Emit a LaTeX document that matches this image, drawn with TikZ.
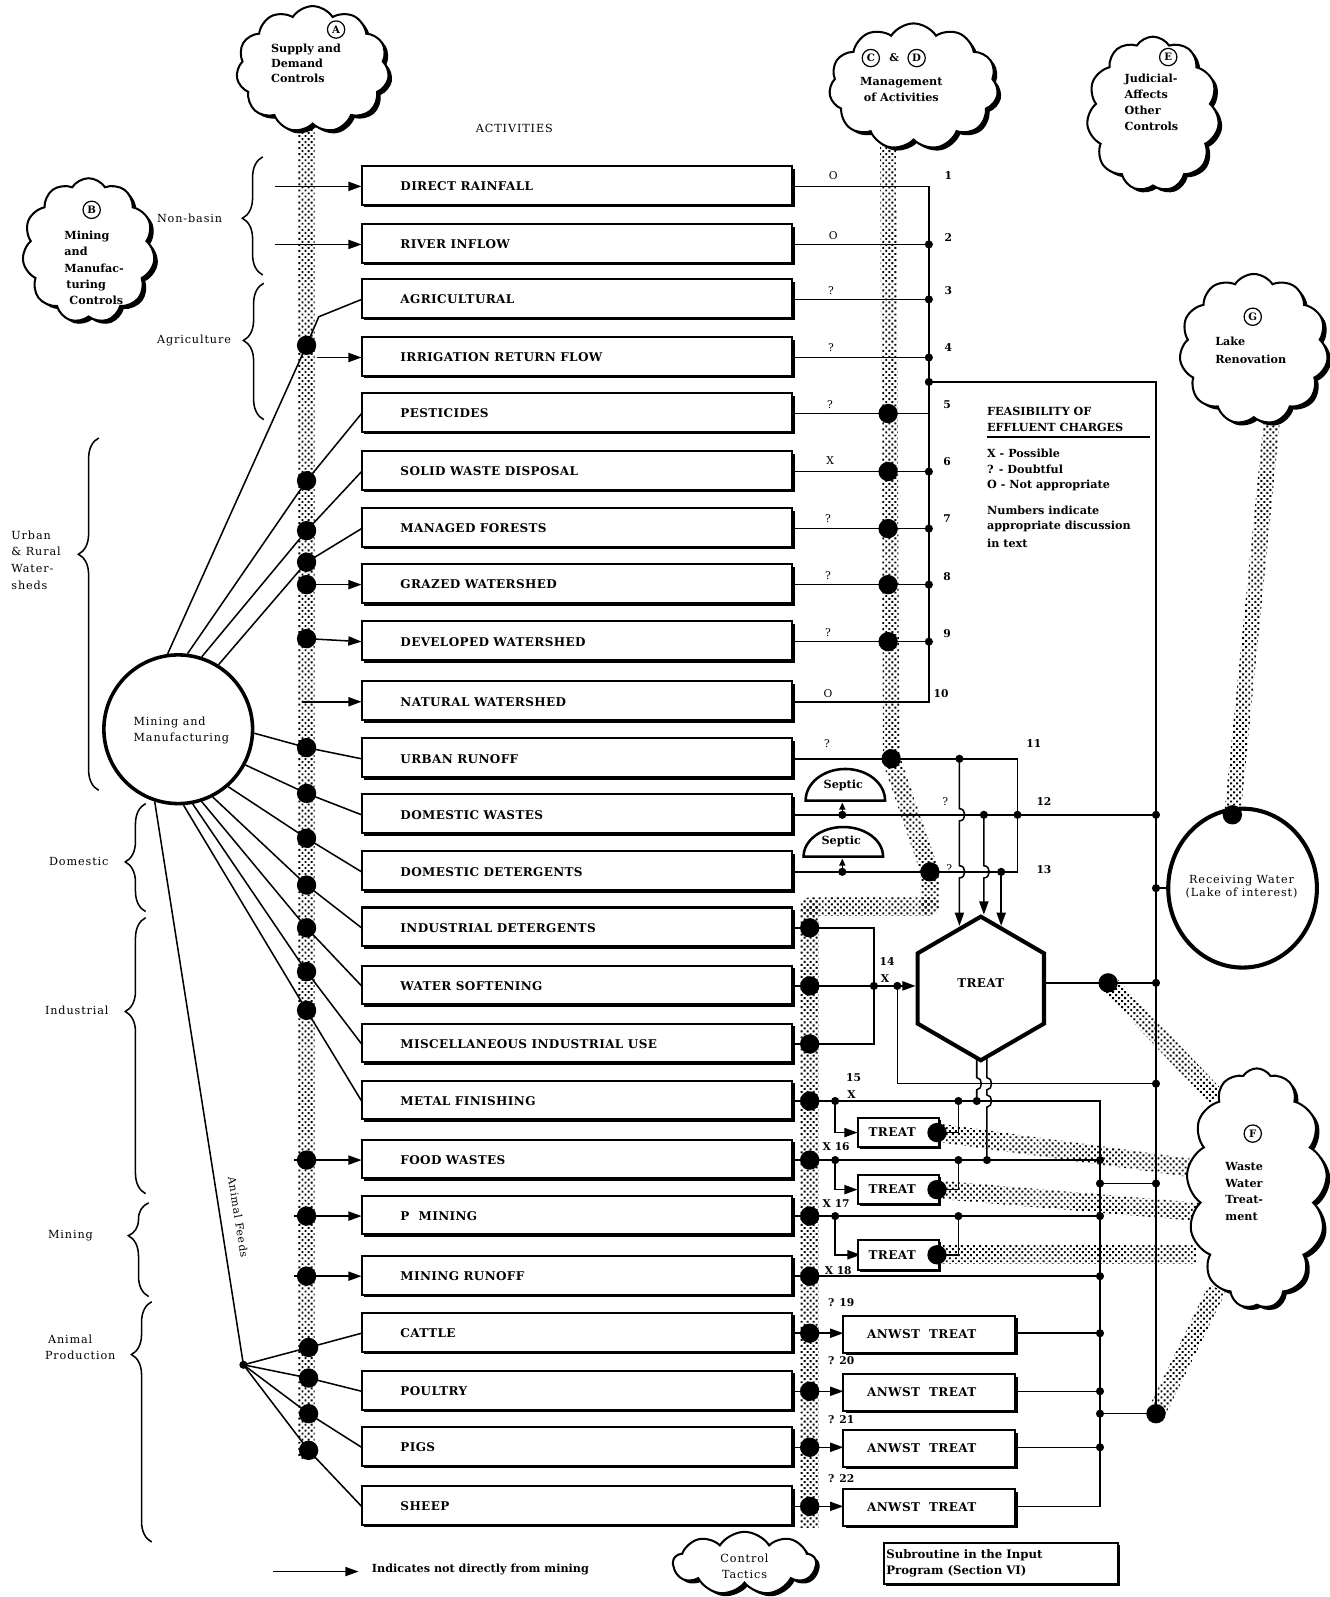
\documentclass[tikz,border=0pt]{standalone}
\usepackage{fontspec}
\setmainfont{DejaVu Serif}
\newfontfamily\spaced[LetterSpace=8]{DejaVu Serif}
\newfontfamily\boxfont[LetterSpace=3]{DejaVu Serif}
\usetikzlibrary{arrows.meta,calc,shapes.geometric,shapes.symbols,shadows,patterns.meta,decorations.pathreplacing}
\newcommand{\bandseg}[3]{\fill[stip] ($(#1)!#3!90:(#2)$) -- ($(#2)!#3!-90:(#1)$) -- ($(#2)!#3!90:(#1)$) -- ($(#1)!#3!-90:(#2)$) -- cycle;}
\tikzset{
 conn/.style={line width=1.5pt},
 arr/.style={line width=1.5pt,-{Triangle[length=13pt,width=9pt]}},
 sarr/.style={line width=1.5pt,-{Triangle[length=7pt,width=6pt]}},
 bigdot/.style={circle,fill=black,inner sep=0pt,minimum size=19pt},
 sdot/.style={circle,fill=black,inner sep=0pt,minimum size=8pt},
 actbox/.style={draw,line width=2pt,fill=white,minimum width=423pt,minimum height=38pt,inner sep=0pt,general shadow={fill=black,shadow xshift=2.5pt,shadow yshift=-2.5pt}},
 abox/.style={draw,line width=2pt,fill=white,minimum width=169pt,minimum height=36pt,inner sep=0pt,general shadow={fill=black,shadow xshift=2.5pt,shadow yshift=-2.5pt}},
 tbox/.style={draw,line width=2pt,fill=white,minimum width=80pt,minimum height=29pt,inner sep=0pt,general shadow={fill=black,shadow xshift=2pt,shadow yshift=-2pt}},
 acttext/.style={anchor=west,inner sep=0pt,font=\boxfont\bfseries\fontsize{11.8}{14}\selectfont},
 stip/.style={pattern={Dots[radius=1.35pt,distance=4.2pt,angle=45]}},
 cloudy/.style={cloud,cloud puffs=11,cloud puff arc=115,cloud ignores aspect,draw,line width=2pt,fill=white,inner sep=0pt,general shadow={fill=black,shadow xshift=3.5pt,shadow yshift=-3pt}},
 circlet/.style={circle,draw,line width=1.2pt,inner sep=0pt,minimum size=17pt,font=\bfseries\fontsize{10}{10}\selectfont},
 ctext/.style={inner sep=0pt,font=\bfseries\fontsize{11}{15}\selectfont,align=left},
 numl/.style={inner sep=0pt,font=\bfseries\fontsize{10.5}{12}\selectfont},
 side/.style={anchor=west,inner sep=0pt,font=\spaced\fontsize{11}{16.5}\selectfont,align=left},
 brc/.style={decorate,decoration={brace,amplitude=20pt,aspect=#1},line width=1.5pt},
}
\begin{document}
\begin{tikzpicture}[x=1pt,y=-1pt]
\fill[white] (0,0) rectangle (1305,1568);
\useasboundingbox (0,0) rectangle (1305,1568);

% ---------- row coordinates
\foreach \i/\y in {1/183,2/240,3/294,4/351,5/406,6/463,7/519,8/574,9/630,10/689,11/745,12/800,13/856,14/911,15/968,16/1025,17/1081,18/1139,19/1194,20/1253,21/1309,22/1366,23/1421,24/1479}{
  \coordinate (L\i) at (355,\y);
  \coordinate (R\i) at (778,\y);
}

% ---------- stippled bands
\bandseg{301,110}{301,1432}{8pt}
\bandseg{872,110}{875,745}{8pt}
\bandseg{875,745}{913,856}{9pt}
\bandseg{913,856}{913,890}{9pt}
\bandseg{913,890}{795,890}{9pt}
\bandseg{795,890}{795,1500}{9pt}
\fill[stip] (913,890) circle[radius=9];
\fill[stip] (795,890) circle[radius=9];
\bandseg{1250,400}{1210,800}{8pt}
\bandseg{1088,965}{1195,1078}{9pt}
\bandseg{920,1112}{1178,1148}{9pt}
\bandseg{920,1168}{1178,1190}{9pt}
\bandseg{920,1232}{1175,1232}{9pt}
\bandseg{1195,1265}{1135,1388}{9pt}

% ---------- main circle and lake
\node[circle,draw,line width=3.5pt,fill=white,minimum size=146pt,inner sep=0pt] (mm) at (175,716) {};
\node[ellipse,draw,line width=4pt,minimum width=146pt,minimum height=156pt,inner sep=0pt] (lake) at (1220,872) {};

% ---------- left connectors
\draw[arr] (270,183) -- (L1);
\draw[arr] (270,240) -- (L2);
\draw[conn] (mm.98) -- (301,339) -- (313,311) -- (L3);
\draw[arr] (311,351) -- (L4);
\draw[conn] (mm.83) -- (301,472) -- (L5);
\draw[conn] (mm.72) -- (301,521) -- (L6);
\draw[conn] (mm.58) -- (301,552) -- (L7);
\draw[arr] (301,574) -- (L8);
\draw[arr] (301,627) -- (L9);
\draw[arr] (297,689) -- (L10);
\draw[conn] (mm.-3) -- (301,734) -- (L11);
\draw[conn] (mm.-28) -- (301,779) -- (L12);
\draw[conn] (mm.-49) -- (301,823) -- (L13);
\draw[conn] (mm.-63) -- (301,869) -- (L14);
\draw[conn] (mm.-72) -- (301,911) -- (L15);
\draw[conn] (mm.-79) -- (301,954) -- (L16);
\draw[conn] (mm.-86) -- (301,992) -- (L17);
\draw[arr] (289,1139) -- (L18);
\draw[arr] (289,1194) -- (L19);
\draw[arr] (289,1253) -- (L20);
\coordinate (af) at (239,1340);
\draw[conn] (mm.-108) -- (af);
\draw[conn] (af) -- (303,1323) -- (L21);
\draw[conn] (af) -- (303,1353) -- (L22);
\draw[conn] (af) -- (303,1388) -- (L23);
\draw[conn] (af) -- (303,1424) -- (L24);

% ---------- right connectors rows 1-10
\draw[conn] (R1) -- (912,183) -- (912,689) -- (R10);
\foreach \i/\y in {2/240,3/294,4/351,5/406,6/463,7/519,8/574,9/630}{\draw[conn] (R\i) -- (912,\y);}
\draw[conn] (912,375) -- (1135,375) -- (1135,1388);

% ---------- rows 11-13
\draw[conn] (R11) -- (999,745) -- (999,856) -- (R13);
\draw[conn] (R12) -- (1135,800);
\draw[sarr] (827,800) -- (827,788);
\draw[sarr] (827,856) -- (827,843);
\draw[arr] (942,745) -- (942,794) .. controls (949,794) and (949,806) .. (942,806) -- (942,850) .. controls (949,850) and (949,862) .. (942,862) -- (942,909);
\draw[arr] (966,800) -- (966,850) .. controls (973,850) and (973,862) .. (966,862) -- (966,898);
\draw[arr] (983,856) -- (983,909);

% ---------- rows 14-16
\draw[conn] (R14) -- (858,911) -- (858,1025) -- (R16);
\draw[conn] (R15) -- (858,968);
\draw[arr] (858,968) -- (899,968);
\draw[conn] (881,968) -- (881,1064) -- (1135,1064);
\draw[conn] (1027,965) -- (1135,965);
\draw[conn] (1135,872) -- (lake.west);

% ---------- hex outlet lines
\draw[conn] (959,1039) -- (959,1058) .. controls (965,1058) and (965,1070) .. (959,1070) -- (959,1081);
\draw[conn] (969,1039) -- (969,1058) .. controls (975,1058) and (975,1070) .. (969,1070) -- (969,1075) .. controls (975,1075) and (975,1087) .. (969,1087) -- (969,1139);

% ---------- rows 17-24
\draw[conn] (R17) -- (1080,1081) -- (1080,1479) -- (997,1479);
\draw[conn] (R18) -- (1080,1139);
\draw[conn] (R19) -- (1080,1194);
\draw[conn] (R20) -- (1080,1253);
\draw[conn] (1080,1162) -- (1135,1162);
\draw[conn] (1080,1388) -- (1135,1388);
\foreach \y in {1309,1366,1421}{\draw[conn] (997,\y) -- (1080,\y);}
\draw[arr] (820,1081) -- (820,1112) -- (842,1112);
\draw[arr] (820,1139) -- (820,1168) -- (842,1168);
\draw[arr] (820,1194) -- (820,1232) -- (845,1232);
\draw[conn] (922,1112) -- (941,1112) -- (941,1081);
\draw[conn] (922,1168) -- (941,1168) -- (941,1139);
\draw[conn] (922,1232) -- (941,1232) -- (941,1194);
\foreach \i in {21,22,23,24}{\draw[arr] (R\i) -- ($(R\i)+(50,0)$);}

% ---------- clouds
\node[cloudy,minimum width=150pt,minimum height=124pt] (cA) at (307,68) {};
\node[cloudy,minimum width=130pt,minimum height=142pt] (cB) at (87,246) {};
\node[cloudy,minimum width=166pt,minimum height=124pt] (cCD) at (897,85) {};
\node[cloudy,minimum width=130pt,minimum height=152pt] (cE) at (1132,112) {};
\node[cloudy,minimum width=146pt,minimum height=148pt] (cG) at (1231,343) {};
\node[cloudy,cloud puffs=13,minimum width=138pt,minimum height=236pt] (cF) at (1234,1167) {};
\node[cloudy,cloud puffs=9,minimum width=140pt,minimum height=62pt] (cCT) at (731,1535) {};

% ---------- boxes
\foreach \i/\y/\t in {1/183/DIRECT RAINFALL,2/240/RIVER INFLOW,3/294/AGRICULTURAL,4/351/IRRIGATION RETURN FLOW,5/406/PESTICIDES,6/463/SOLID WASTE DISPOSAL,7/519/MANAGED FORESTS,8/574/GRAZED WATERSHED,9/630/DEVELOPED WATERSHED,10/689/NATURAL WATERSHED,11/745/URBAN RUNOFF,12/800/DOMESTIC WASTES,13/856/DOMESTIC DETERGENTS,14/911/INDUSTRIAL DETERGENTS,15/968/WATER SOFTENING,16/1025/MISCELLANEOUS INDUSTRIAL USE,17/1081/METAL FINISHING,18/1139/FOOD WASTES,19/1194/P\ \ MINING,20/1253/MINING RUNOFF,21/1309/CATTLE,22/1366/POULTRY,23/1421/PIGS,24/1479/SHEEP}{
  \node[actbox] (b\i) at (566.5,\y-1) {};
  \node[acttext] (t\i) at (393,\y) {\t};
}
\foreach \i/\y in {21/1309,22/1366,23/1421,24/1479}{
  \node[abox] (an\i) at (912.5,\y+1) {};
  \node[inner sep=0pt,font=\boxfont\bfseries\fontsize{11.8}{14}\selectfont] (ant\i) at (905,\y+1) {ANWST\ \ TREAT};
}
\foreach \i/\y in {1/1112,2/1168,3/1232}{
  \node[tbox] (tb\i) at (882,\y) {};
  \node[inner sep=0pt,font=\boxfont\bfseries\fontsize{11.8}{14}\selectfont] (tbt\i) at (876,\y) {TREAT};
}
\node[draw,line width=2pt,fill=white,minimum width=230pt,minimum height=40pt,inner sep=0pt,general shadow={fill=black,shadow xshift=2pt,shadow yshift=-2pt}] (sub) at (983,1535) {};

% hexagon
\draw[line width=4pt,fill=white,line join=miter] (963,900) -- (1025,936) -- (1025,1005) -- (963,1041) -- (901,1005) -- (901,936) -- cycle;
\node[inner sep=0pt,font=\boxfont\bfseries\fontsize{11.8}{14}\selectfont] (hext) at (963,965) {TREAT};
% septic domes
\draw[line width=2.5pt,fill=white] (791,786) arc[start angle=180,end angle=360,x radius=39,y radius=31] -- cycle;
\draw[line width=2.5pt,fill=white] (789,841) arc[start angle=180,end angle=360,x radius=39,y radius=29] -- cycle;
\node[inner sep=0pt,font=\bfseries\fontsize{11}{12}\selectfont] (sep1) at (828,771) {Septic};
\node[inner sep=0pt,font=\bfseries\fontsize{11}{12}\selectfont] (sep2) at (826,826) {Septic};

% ---------- big dots
\foreach \p in {(301,339),(301,472),(301,521),(301,552),(301,574),(301,627),(301,734),(301,779),(301,823),(301,869),(301,911),(301,954),(301,992),(301,1139),(301,1194),(301,1253),(303,1323),(303,1353),(303,1388),(303,1424),
 (872,406),(872,463),(872,519),(872,574),(872,630),(875,745),(913,856),
 (795,911),(795,968),(795,1025),(795,1081),(795,1139),(795,1194),(795,1253),(795,1309),(795,1366),(795,1421),(795,1479),
 (1088,965),(1210,800),(1135,1388),(920,1112),(920,1168),(920,1232)}{\node[bigdot] at \p {};}
% ---------- small dots
\foreach \p in {(912,240),(912,294),(912,351),(912,375),(912,463),(912,519),(912,574),(912,630),
 (942,745),(966,800),(999,800),(983,856),(827,800),(827,856),
 (1135,800),(1135,872),(1135,965),(1135,1064),(1135,1162),(858,968),(881,968),
 (820,1081),(941,1081),(959,1081),(820,1139),(941,1139),(969,1139),(1080,1139),(1080,1162),
 (820,1194),(941,1194),(1080,1194),(1080,1253),(1080,1309),(1080,1366),(1080,1388),(1080,1421),(239,1340)}{\node[sdot] at \p {};}

% ---------- braces and side labels
\draw[brc=0.48] (258,270) -- (258,154);
\draw[brc=0.58] (259,412) -- (259,278);
\draw[brc=0.67] (97,776) -- (97,430);
\draw[brc=0.46] (143,895) -- (143,789);
\draw[brc=0.66] (143,1172) -- (143,901);
\draw[brc=0.65] (146,1273) -- (146,1181);
\draw[brc=0.78] (149,1514) -- (149,1278);
\node[side] (nb) at (154,214) {Non-basin};
\node[side] (ag) at (154,334) {Agriculture};
\node[side] (ur) at (11,550) {Urban\\\& Rural\\Water-\\sheds};
\node[side] (dm) at (48,846) {Domestic};
\node[side] (in) at (44,992) {Industrial};
\node[side] (mn) at (47,1213) {Mining};
\node[side,font=\spaced\fontsize{11}{16}\selectfont] (ap) at (44,1323) {\hspace{3pt}Animal\\Production};
\node[inner sep=0pt,rotate=-81,font=\spaced\fontsize{10.5}{12}\selectfont] (afl) at (234,1195) {Animal Feeds};
\node[side,font=\spaced\fontsize{11}{16}\selectfont] (mmt) at (131,717) {Mining and\\Manufacturing};
\node[inner sep=0pt,font=\spaced\fontsize{11}{13}\selectfont] (actl) at (505,126) {ACTIVITIES};

% ---------- cloud texts
\node[circlet] (ca) at (330,29) {A};
\node[ctext,anchor=west,font=\bfseries\fontsize{11}{14.5}\selectfont] (cat) at (266,62) {Supply and\\Demand\\Controls};
\node[circlet] (cb) at (90,206) {B};
\node[ctext,anchor=west,font=\bfseries\fontsize{11}{16}\selectfont] (cbt) at (63,263) {Mining\\and\\Manufac-\\\hspace{2pt}turing\\\hspace{5pt}Controls};
\node[circlet] (cc) at (855,57) {C};
\node[numl] (amp) at (878,57) {\&};
\node[circlet] (cd) at (900,57) {D};
\node[ctext,align=center,font=\bfseries\fontsize{11}{16}\selectfont] (cdt) at (885,88) {Management\\of Activities};
\node[circlet] (ce) at (1147,56) {E};
\node[ctext,anchor=west,font=\bfseries\fontsize{11}{15.7}\selectfont] (cet) at (1104,100) {Judicial-\\Affects\\Other\\Controls};
\node[circlet] (cg) at (1230,311) {G};
\node[ctext,anchor=west,font=\bfseries\fontsize{11}{17}\selectfont] (cgt) at (1193,344) {Lake\\Renovation};
\node[circlet] (cf) at (1230,1113) {F};
\node[ctext,anchor=west,font=\bfseries\fontsize{11}{16.3}\selectfont] (cft) at (1203,1170) {Waste\\Water\\Treat-\\ment};
\node[ctext,align=center,font=\spaced\fontsize{11}{16}\selectfont] (ctt) at (731,1538) {Control\\Tactics};

% ---------- feasibility legend
\node[ctext,anchor=west] (f1) at (969,404) {FEASIBILITY OF};
\node[ctext,anchor=west] (f2) at (969,420) {EFFLUENT CHARGES};
\draw[line width=1.2pt] (969,429) -- (1129,429);
\node[ctext,anchor=west] (f3) at (969,445) {X - Possible};
\node[ctext,anchor=west] (f4) at (969,461) {? - Doubtful};
\node[ctext,anchor=west] (f5) at (969,477) {O - Not appropriate};
\node[ctext,anchor=west] (f6) at (969,501) {Numbers indicate};
\node[ctext,anchor=west] (f7) at (969,517) {appropriate discussion};
\node[ctext,anchor=west] (f8) at (969,533) {in text};

% ---------- marks and numbers
\foreach \x/\y/\m in {818/172/O,818/231/O,816/285/?,816/341/?,815/397/?,815/452/X,813/509/?,813/565/?,813/621/?,813/681/O,812/730/?,928/787/?,932/853/?}{\node[numl,font=\fontsize{10.5}{12}\selectfont] at (\x,\y) {\m};}
\foreach \x/\y/\m in {931/172/1,931/233/2,931/285/3,931/341/4,930/397/5,930/453/6,930/509/7,930/566/8,930/622/9,924/681/10,1015/730/11,1025/787/12,1025/854/13,871/944/14,869/961/X,838/1058/15,836/1075/X,821/1126/X 16,821/1182/X 17,823/1248/X 18,826/1279/? 19,826/1336/? 20,826/1394/? 21,826/1452/? 22}{\node[numl] at (\x,\y) {\m};}
\node[inner sep=0pt,font=\spaced\fontsize{11}{13}\selectfont,align=center] (lkt) at (1219,871) {Receiving Water\\(Lake of interest)};

% ---------- bottom legend
\coordinate (lg1) at (268,1543);
\coordinate (lg2) at (352,1543);
\draw[arr] (lg1) -- (lg2);
\node[ctext,anchor=west,font=\bfseries\fontsize{11}{13}\selectfont] (lgt) at (365,1541) {Indicates not directly from mining};
\node[ctext,anchor=west,font=\bfseries\fontsize{11.5}{16}\selectfont] (subt) at (870,1535) {Subroutine in the Input\\Program (Section VI)};
\end{tikzpicture}
\end{document}
